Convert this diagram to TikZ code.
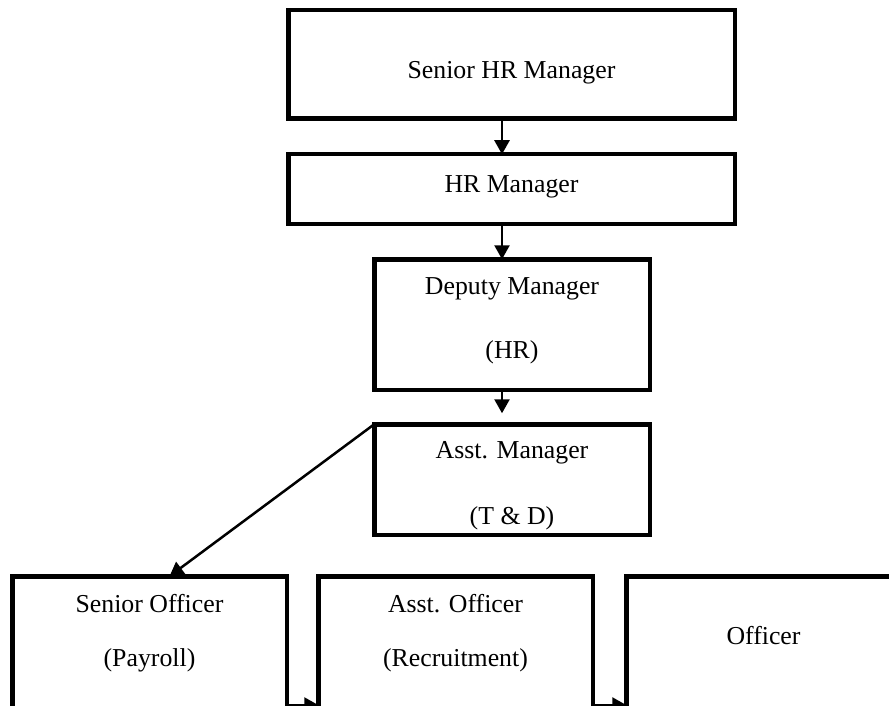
\documentclass[tikz,border=0pt]{standalone}
\usepackage{fontspec}
\setmainfont{Liberation Serif}
\usetikzlibrary{arrows.meta}
\begin{document}
\begin{tikzpicture}[x=1pt, y=-1pt,
  box/.style={draw=black, line width=4.5pt, inner sep=0pt, outer sep=0pt},
  lbl/.style={anchor=base, inner sep=0pt, font=\fontsize{25.8}{30}\selectfont},
  conn/.style={draw=black, line width=2.5pt, -{Triangle[width=15pt,length=14pt]}}]
  \useasboundingbox (0,0) rectangle (889,706);

  % boxes of the chart
  \node[box, minimum width=446.5pt, minimum height=108.5pt] (srhr) at (511.5,64.5) {};
  \node[box, minimum width=446.5pt, minimum height=69.5pt]  (hr)   at (511.5,189) {};
  \node[box, minimum width=275.5pt, minimum height=130.5pt] (dep)  at (512,324.5) {};
  \node[box, minimum width=275.5pt, minimum height=110.5pt] (am)   at (512,479.5) {};
  \node[box, minimum width=274.5pt, minimum height=135.5pt] (so)   at (149.5,644) {};
  \node[box, minimum width=274.5pt, minimum height=135.5pt] (ao)   at (455.5,644) {};
  \node[box, minimum width=274.5pt, minimum height=135.5pt] (off)  at (763.5,644) {};

  % texts
  \node[lbl] (srhrT)  at (511.5,79)  {Senior HR Manager};
  \node[lbl] (hrT)    at (511.5,192) {HR Manager};
  \node[lbl] (depT1)  at (512,294)   {Deputy Manager};
  \node[lbl] (depT2)  at (512,358)   {(HR)};
  \node[lbl] (amT1)   at (512,458)   {Asst. Manager};
  \node[lbl] (amT2)   at (512,524)   {(T \& D)};
  \node[lbl] (soT1)   at (149.5,612) {Senior Officer};
  \node[lbl] (soT2)   at (149.5,666) {(Payroll)};
  \node[lbl] (aoT1)   at (455.5,612) {Asst. Officer};
  \node[lbl] (aoT2)   at (455.5,666) {(Recruitment)};
  \node[lbl] (offT)   at (763.5,644) {Officer};

  % connectors
  \draw[conn] ([xshift=-9.5pt]srhr.south) -- ([xshift=-9.5pt]hr.north);
  \draw[conn] ([xshift=-9.5pt]hr.south) -- ([xshift=-10pt]dep.north);
  \draw[conn] ([xshift=-10pt]dep.south) -- ([xshift=-10pt,yshift=11pt]am.north);
  \draw[conn] (am.north west) -- ([xshift=20pt]so.north);
  \draw[conn] ([yshift=-61pt]so.east) -- ([yshift=-61pt]ao.west);
  \draw[conn] ([yshift=-61pt]ao.east) -- ([yshift=-61pt]off.west);
\end{tikzpicture}
\end{document}
